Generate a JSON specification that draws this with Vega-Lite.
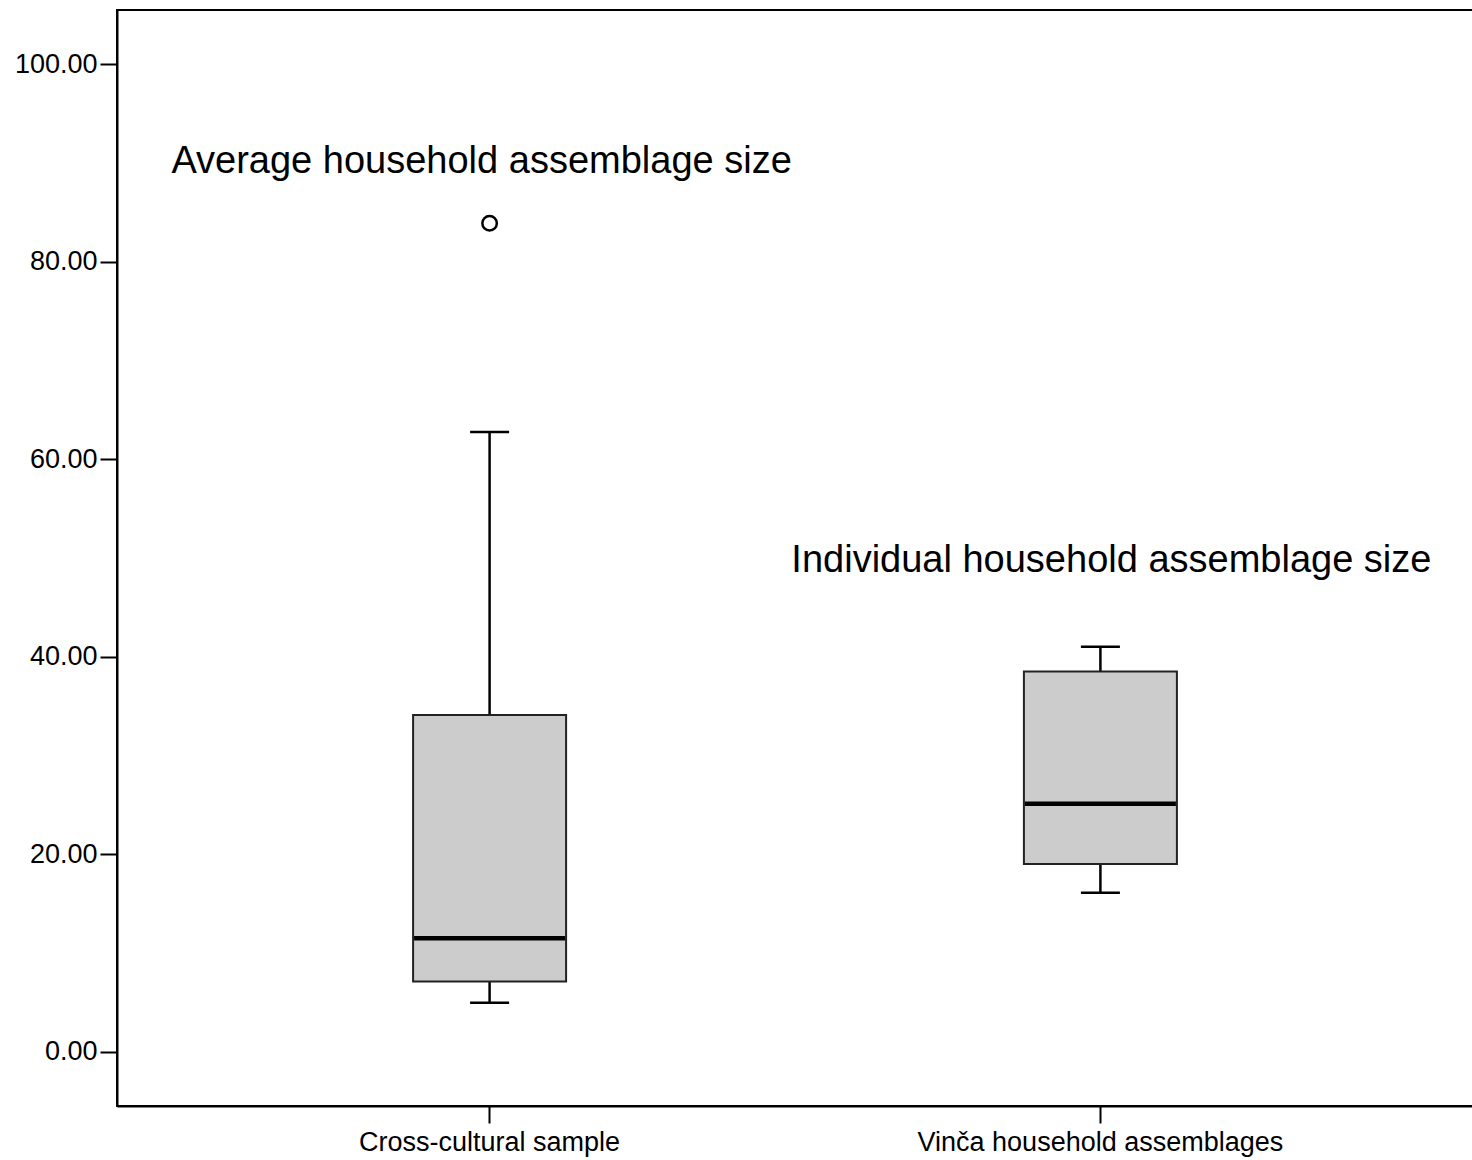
{
  "$schema": "https://vega.github.io/schema/vega-lite/v6.json",
  "autosize": {"type": "none"},
  "padding": {"left": 117, "top": 10, "right": 0, "bottom": 54},
  "width": 1356,
  "height": 1096,
  "background": "white",
  "config": {
    "view": {"stroke": "black", "strokeWidth": 2},
    "font": "Liberation Sans",
    "axis": {"grid": false, "title": null, "domainColor": "black", "domainWidth": 2, "tickColor": "black", "tickWidth": 2, "tickSize": 17, "labelColor": "black", "labelFont": "Liberation Sans", "labelFontSize": 27, "labelPadding": 3, "labelLimit": 0}
  },
  "datasets": {
    "stats": [
      {"group": "Cross-cultural sample", "lower": 4.96, "q1": 7.1, "median": 11.5, "q3": 34.1, "upper": 62.75},
      {"group": "Vinča household assemblages", "lower": 16.1, "q1": 19.0, "median": 25.1, "q3": 38.5, "upper": 41.0}
    ],
    "outliers": [
      {"group": "Cross-cultural sample", "value": 83.9}
    ],
    "notes": [
      {"group": "Cross-cultural sample", "value": 90.1, "label": "Average household assemblage size"},
      {"group": "Vinča household assemblages", "value": 49.7, "label": "Individual household assemblage size"}
    ]
  },
  "encoding": {
    "x": {"field": "group", "type": "nominal", "sort": null,
          "scale": {"paddingInner": 0, "paddingOuter": 0.11},
          "axis": {"labelAngle": 0, "labelFontSize": 27, "labelPadding": 6, "labelLimit": 0}}
  },
  "layer": [
    {
      "data": {"name": "stats"},
      "mark": {"type": "rule", "color": "black", "strokeWidth": 2.5},
      "encoding": {
        "y": {"field": "lower", "type": "quantitative",
              "scale": {"domain": [-5.5, 105.5], "nice": false, "zero": false},
              "axis": {"values": [0, 20, 40, 60, 80, 100], "format": ".2f"}},
        "y2": {"field": "upper"}
      }
    },
    {
      "data": {"name": "stats"},
      "mark": {"type": "tick", "color": "black", "opacity": 1, "thickness": 2.5, "size": 39},
      "encoding": {"y": {"field": "lower", "type": "quantitative"}}
    },
    {
      "data": {"name": "stats"},
      "mark": {"type": "tick", "color": "black", "opacity": 1, "thickness": 2.5, "size": 39},
      "encoding": {"y": {"field": "upper", "type": "quantitative"}}
    },
    {
      "data": {"name": "stats"},
      "mark": {"type": "bar", "size": 153, "fill": "#cccccc", "stroke": "#222222", "strokeWidth": 2, "opacity": 1},
      "encoding": {
        "y": {"field": "q1", "type": "quantitative"},
        "y2": {"field": "q3"}
      }
    },
    {
      "data": {"name": "stats"},
      "mark": {"type": "tick", "color": "black", "opacity": 1, "thickness": 4.5, "size": 151},
      "encoding": {"y": {"field": "median", "type": "quantitative"}}
    },
    {
      "data": {"name": "outliers"},
      "mark": {"type": "point", "shape": "circle", "filled": false, "stroke": "black", "strokeWidth": 2.5, "size": 210, "opacity": 1},
      "encoding": {"y": {"field": "value", "type": "quantitative"}}
    },
    {
      "data": {"name": "notes"},
      "transform": [{"filter": "datum.group === 'Cross-cultural sample'"}],
      "mark": {"type": "text", "fontSize": 38, "color": "black", "align": "center", "baseline": "middle", "font": "Liberation Sans", "dx": -8},
      "encoding": {
        "y": {"field": "value", "type": "quantitative"},
        "text": {"field": "label"}
      }
    },
    {
      "data": {"name": "notes"},
      "transform": [{"filter": "datum.group !== 'Cross-cultural sample'"}],
      "mark": {"type": "text", "fontSize": 38, "color": "black", "align": "center", "baseline": "middle", "font": "Liberation Sans", "dx": 11},
      "encoding": {
        "y": {"field": "value", "type": "quantitative"},
        "text": {"field": "label"}
      }
    }
  ]
}
